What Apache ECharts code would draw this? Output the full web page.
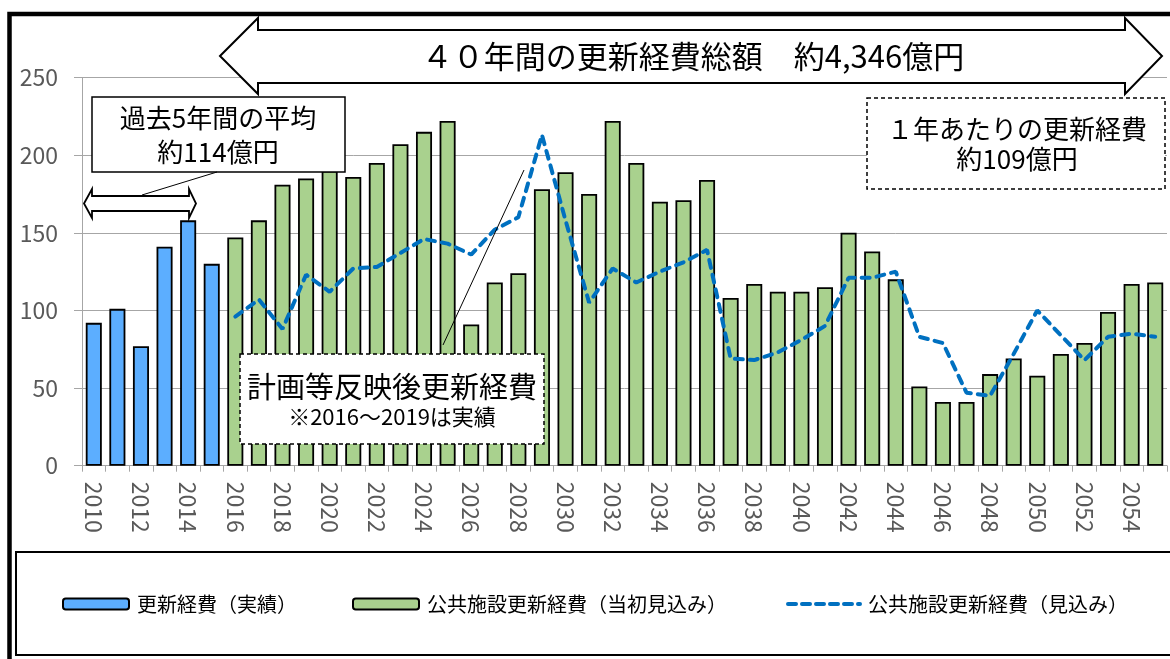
<!DOCTYPE html>
<html>
<head>
<meta charset="utf-8">
<script src="https://cdn.jsdelivr.net/npm/echarts@6/dist/echarts.min.js"></script>
<style>html,body{margin:0;padding:0;background:#fff;}#c{width:1170px;height:659px;}</style>
</head>
<body>
<div id="c"></div>
<script>
const years = ['2010','2011','2012','2013','2014','2015','2016','2017','2018','2019',
  '2020','2021','2022','2023','2024','2025','2026','2027','2028','2029',
  '2030','2031','2032','2033','2034','2035','2036','2037','2038','2039',
  '2040','2041','2042','2043','2044','2045','2046','2047','2048','2049',
  '2050','2051','2052','2053','2054','2055'];
// 更新経費（実績） 2010-2015
const actual = [92, 101, 77, 141, 158, 130];
// 公共施設更新経費（当初見込み） 2016-2055
const initialPlan = [147,158,181,185,190,186,195,207,215,222,
  91,118,124,178,189,175,222,195,170,171,
  184,108,117,112,112,115,150,138,120,51,
  41,41,59,69,58,72,79,99,117,118];
// 公共施設更新経費（見込み） 2016-2055
const forecast = [96,107,88,123,112,127,128,137,146,143,
  136,152,160,213,158,105,127,118,125,131,
  139,69,68,73,81,90,121,121,125,83,
  79,47,45,72,100,84,68,83,85,83];
const yTicks = {min: 0, max: 250, interval: 50};

const nActual = actual.length;
const blueData = years.map((y, i) => i < nActual ? actual[i] : null);
const greenData = years.map((y, i) => i < nActual ? null : initialPlan[i - nActual]);
const lineData = years.map((y, i) => i < nActual ? null : forecast[i - nActual]);

const FONT = '"Noto Sans CJK JP", "Noto Sans", sans-serif';
const chart = echarts.init(document.getElementById('c'), null, {renderer: 'canvas'});

function txt(x, y, s, size) {
  return {type: 'text', z: 110, style: {x: x, y: y, text: s, fill: '#000',
    font: size + 'px ' + FONT, textAlign: 'center', textVerticalAlign: 'middle'}};
}

const option = {
  animation: false,
  backgroundColor: '#fff',
  grid: {left: 82, right: 3, top: 77.5, bottom: 193.3, containLabel: false},
  xAxis: {
    type: 'category', data: years,
    axisLine: {show: true, lineStyle: {color: '#a6a6a6', width: 1}},
    axisTick: {show: true, interval: 0, length: 6, lineStyle: {color: '#a6a6a6'}},
    axisLabel: {interval: 1, rotate: -90, margin: 16, color: '#595959', fontSize: 23, fontFamily: FONT},
    splitLine: {show: false}
  },
  yAxis: {
    type: 'value', min: yTicks.min, max: yTicks.max, interval: yTicks.interval,
    axisLine: {show: true, lineStyle: {color: '#a6a6a6', width: 1}},
    axisTick: {show: true, length: 8, lineStyle: {color: '#a6a6a6'}},
    axisLabel: {margin: 24, color: '#595959', fontSize: 23, fontFamily: FONT},
    splitLine: {show: true, lineStyle: {color: '#a6a6a6', width: 1}}
  },
  legend: [
    {data: ['更新経費（実績）'], left: 62, top: 594, padding: 0, itemWidth: 66, itemHeight: 11,
      selectedMode: false, textStyle: {fontSize: 20, color: '#000', fontFamily: FONT, padding: [0,0,0,3]}},
    {data: ['公共施設更新経費（当初見込み）'], left: 352, top: 594, padding: 0, itemWidth: 66, itemHeight: 11,
      selectedMode: false, textStyle: {fontSize: 20, color: '#000', fontFamily: FONT, padding: [0,0,0,3]}},
    {data: ['公共施設更新経費（見込み）'], left: 786, top: 594, padding: 0, itemWidth: 72, itemHeight: 11,
      selectedMode: false, itemStyle: {color: 'rgba(0,0,0,0)', borderWidth: 0},
      lineStyle: {color: '#0070c0', width: 4, type: [8, 6], cap: 'round'},
      textStyle: {fontSize: 20, color: '#000', fontFamily: FONT, padding: [0,0,0,3]}}
  ],
  series: [
    {name: '更新経費（実績）', type: 'bar', data: blueData, barWidth: '68%', barGap: '-100%',
      itemStyle: {color: '#5caeff', borderColor: '#000', borderWidth: 1.8}},
    {name: '公共施設更新経費（当初見込み）', type: 'bar', data: greenData, barWidth: '68%', barGap: '-100%',
      itemStyle: {color: '#a9d18e', borderColor: '#000', borderWidth: 1.8}},
    {name: '公共施設更新経費（見込み）', type: 'line', data: lineData, symbol: 'none', z: 5,
      connectNulls: false,
      lineStyle: {color: '#0070c0', width: 4, type: [8, 7], cap: 'round'},
      itemStyle: {color: '#0070c0'}}
  ],
  graphic: [
    {type: 'rect', z: 120, shape: {x: 9.5, y: 14, width: 1200, height: 700},
      style: {fill: 'none', stroke: '#000', lineWidth: 4.5}},
    {type: 'rect', z: 120, shape: {x: 16, y: 552, width: 1200, height: 103},
      style: {fill: 'none', stroke: '#000', lineWidth: 2}},
    {type: 'polygon', z: 105, shape: {points: [[220,56],[258,18],[258,30],[1125,30],[1125,18],[1162,56],[1125,94],[1125,83],[258,83],[258,94]]},
      style: {fill: '#fff', stroke: '#000', lineWidth: 2}},
    txt(693, 56, '４０年間の更新経費総額　約4,346億円', 31),
    {type: 'rect', z: 105, shape: {x: 92, y: 97, width: 253, height: 75},
      style: {fill: '#fff', stroke: '#000', lineWidth: 1.5}},
    txt(218, 118, '過去5年間の平均', 26),
    txt(218, 152, '約114億円', 26),
    {type: 'line', z: 105, shape: {x1: 217, y1: 172, x2: 142, y2: 195},
      style: {stroke: '#000', lineWidth: 1}},
    {type: 'polygon', z: 105, shape: {points: [[84,203.5],[92,189],[92,196],[189,196],[189,189],[196,203.5],[189,218],[189,211],[92,211],[92,218]]},
      style: {fill: '#fff', stroke: '#000', lineWidth: 1.8}},
    {type: 'line', z: 105, shape: {x1: 443, y1: 345, x2: 524, y2: 170},
      style: {stroke: '#000', lineWidth: 1}},
    {type: 'rect', z: 105, shape: {x: 240, y: 354, width: 304, height: 90},
      style: {fill: '#fff', stroke: '#000', lineWidth: 1.5, lineDash: [4, 3]}},
    txt(392, 387, '計画等反映後更新経費', 29),
    txt(392, 417, '※2016～2019は実績', 22),
    {type: 'rect', z: 105, shape: {x: 867, y: 98, width: 298, height: 91},
      style: {fill: '#fff', stroke: '#000', lineWidth: 1.5, lineDash: [4, 3]}},
    txt(1017, 129, '１年あたりの更新経費', 26),
    txt(1017, 159, '約109億円', 26)
  ]
};
chart.setOption(option);
</script>
</body>
</html>
